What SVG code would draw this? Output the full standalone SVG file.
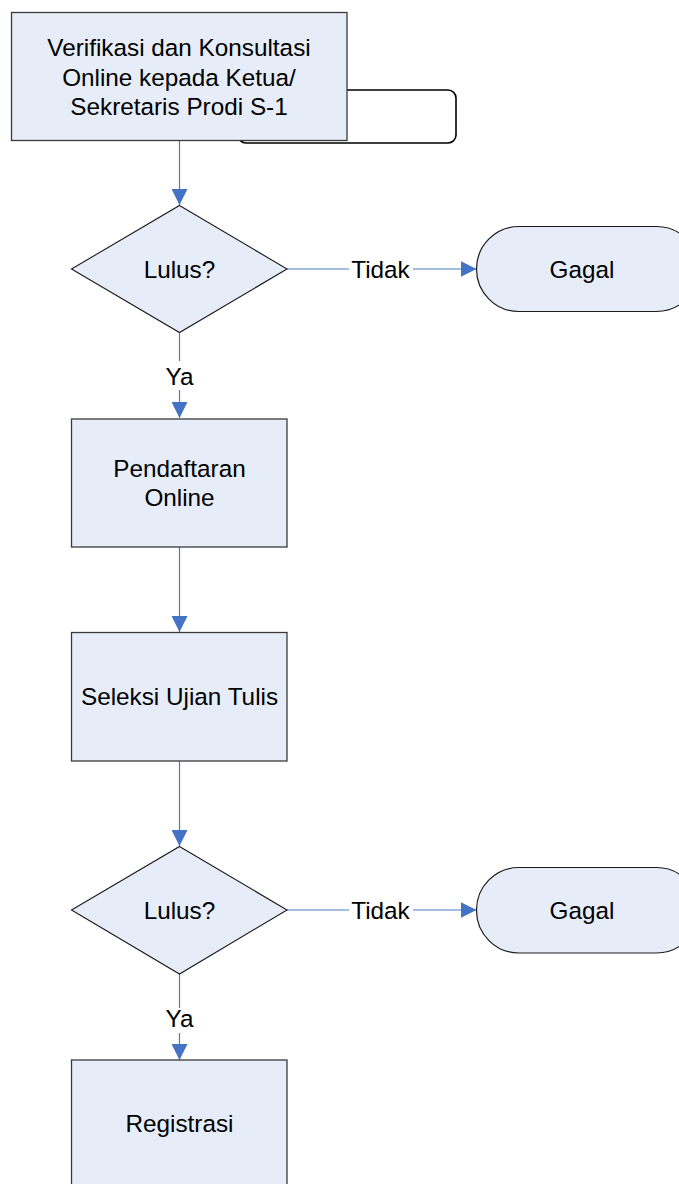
<svg xmlns="http://www.w3.org/2000/svg" width="679" height="1184" viewBox="0 0 679 1184">
<style>
.box{fill:#e6edf8;stroke:#3a3a3a;stroke-width:1.3}
.dia{fill:#e6edf8;stroke:#1a1a1a;stroke-width:1.1}
.term{fill:#e6edf8;stroke:#1a1a1a;stroke-width:1.2}
.ln{fill:none;stroke:#4a7ebb;stroke-width:1.2}
.t{font-family:"Liberation Sans",Arial,sans-serif;font-size:24.3px;fill:#000;text-anchor:middle;dominant-baseline:central}
</style>
<defs>
<marker id="ah" viewBox="0 0 16 16" refX="16" refY="8" markerWidth="16" markerHeight="16" markerUnits="userSpaceOnUse" orient="auto">
<path d="M0,0 L16,8 L0,16 Z" fill="#4472c4"/>
</marker>
</defs>
<g id="back-shape">
<rect x="238" y="90" width="218" height="53" rx="8" ry="8" fill="#fff" stroke="#000" stroke-width="1.6"/>
</g>
<g id="connectors">
<line class="ln" x1="179.5" y1="140" x2="179.5" y2="205" marker-end="url(#ah)"/>
<line class="ln" x1="287" y1="269" x2="349" y2="269"/>
<line class="ln" x1="413" y1="269" x2="476.5" y2="269" marker-end="url(#ah)"/>
<line class="ln" x1="179.5" y1="332" x2="179.5" y2="361"/>
<line class="ln" x1="179.5" y1="390" x2="179.5" y2="418" marker-end="url(#ah)"/>
<text class="t" x="380.5" y="269">Tidak</text>
<text class="t" x="179.5" y="376">Ya</text>
<line class="ln" x1="179.5" y1="547" x2="179.5" y2="632" marker-end="url(#ah)"/>
<line class="ln" x1="179.5" y1="761" x2="179.5" y2="846" marker-end="url(#ah)"/>
<line class="ln" x1="287" y1="910" x2="349" y2="910"/>
<line class="ln" x1="413" y1="910" x2="476.5" y2="910" marker-end="url(#ah)"/>
<line class="ln" x1="179.5" y1="974" x2="179.5" y2="1008"/>
<line class="ln" x1="179.5" y1="1033" x2="179.5" y2="1060" marker-end="url(#ah)"/>
<text class="t" x="380.5" y="910">Tidak</text>
<text class="t" x="179.5" y="1018">Ya</text>
</g>
<g id="n-verifikasi">
<rect class="box" x="11.5" y="12.5" width="335.5" height="128"/>
<text class="t" x="179" y="47">Verifikasi dan Konsultasi</text>
<text class="t" x="179" y="77">Online kepada Ketua/</text>
<text class="t" x="179" y="106">Sekretaris Prodi S-1</text>
</g>
<g id="n-lulus1">
<polygon class="dia" points="179.5,205.5 287,269 179.5,332.5 71.5,269"/>
<text class="t" x="179.5" y="269">Lulus?</text>
</g>
<g id="n-gagal1">
<rect class="term" x="476.5" y="226.5" width="222.5" height="85" rx="42.5" ry="42.5"/>
<text class="t" x="582" y="269">Gagal</text>
</g>
<g id="n-pendaftaran">
<rect class="box" x="71.5" y="419" width="215.5" height="128"/>
<text class="t" x="179.5" y="468">Pendaftaran</text>
<text class="t" x="179.5" y="497">Online</text>
</g>
<g id="n-seleksi">
<rect class="box" x="71.5" y="632.5" width="215.5" height="128.5"/>
<text class="t" x="179.5" y="696">Seleksi Ujian Tulis</text>
</g>
<g id="n-lulus2">
<polygon class="dia" points="179.5,846.5 287,910 179.5,974 71.5,910"/>
<text class="t" x="179.5" y="910">Lulus?</text>
</g>
<g id="n-gagal2">
<rect class="term" x="476.5" y="867.5" width="222.5" height="85.5" rx="42.5" ry="42.5"/>
<text class="t" x="582" y="910">Gagal</text>
</g>
<g id="n-registrasi">
<rect class="box" x="71.5" y="1060" width="215.5" height="140"/>
<text class="t" x="179.5" y="1123">Registrasi</text>
</g>
</svg>
